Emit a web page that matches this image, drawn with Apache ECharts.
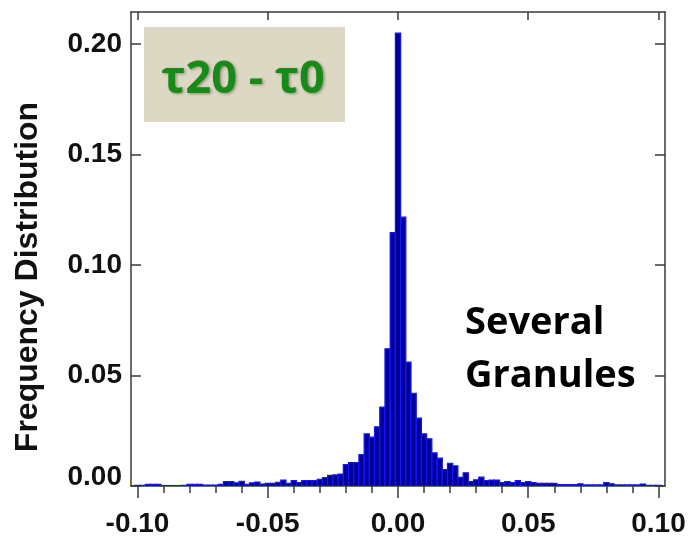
<!DOCTYPE html>
<html>
<head>
<meta charset="utf-8">
<script src="https://cdn.jsdelivr.net/npm/echarts@6/dist/echarts.min.js"></script>
<style>html,body{margin:0;padding:0;background:#fff;}#c{width:689px;height:541px;}</style>
</head>
<body>
<div id="c"></div>
<script>
// Histogram of tau20 - tau0: bins centred every BIN_WIDTH from BIN_START
const BIN_START = -0.1;
const BIN_WIDTH = 0.002;
const frequency = [
  0.0003, 0.0003, 0.0007, 0.0007, 0.0007, 0.0002, 0.0002, 0.0002, 0.0002, 0.0003,
  0.0007, 0.0007, 0.0007, 0.0004, 0.0004, 0.0004, 0.0007, 0.0020, 0.0020, 0.0014,
  0.0021, 0.0007, 0.0014, 0.0018, 0.0009, 0.0012, 0.0012, 0.0017, 0.0027, 0.0012,
  0.0024, 0.0015, 0.0024, 0.0024, 0.0024, 0.0030, 0.0038, 0.0048, 0.0050, 0.0054,
  0.0097, 0.0106, 0.0106, 0.0142, 0.0236, 0.0221, 0.0268, 0.0357, 0.0621, 0.1147,
  0.2050,
  0.1217, 0.0561, 0.0420, 0.0307, 0.0236, 0.0214, 0.0150, 0.0126, 0.0074, 0.0103,
  0.0091, 0.0039, 0.0060, 0.0020, 0.0028, 0.0040, 0.0024, 0.0027, 0.0027, 0.0015,
  0.0020, 0.0015, 0.0024, 0.0015, 0.0020, 0.0015, 0.0012, 0.0012, 0.0012, 0.0012,
  0.0006, 0.0006, 0.0006, 0.0006, 0.0010, 0.0005, 0.0005, 0.0005, 0.0005, 0.0015,
  0.0010, 0.0005, 0.0005, 0.0005, 0.0005, 0.0005, 0.0009, 0.0003, 0.0003, 0.0003
];
const xMajorTicks = [-0.10, -0.05, 0.00, 0.05, 0.10];
const xMinorTicks = [-0.09,-0.08,-0.07,-0.06,-0.04,-0.03,-0.02,-0.01,0.01,0.02,0.03,0.04,0.06,0.07,0.08,0.09];
const yTicks = [0.00, 0.05, 0.10, 0.15, 0.20];
const yAxisTitle = 'Frequency Distribution';
const boxLabel = 'τ20 - τ0';
const noteLines = ['Several', 'Granules'];

const data = frequency.map((f, i) => [BIN_START + i * BIN_WIDTH, f]);

const chart = echarts.init(document.getElementById('c'), null, {renderer: 'canvas'});
const frameColor = '#3a3a3a';
const labelFont = {fontFamily: 'Liberation Sans', fontWeight: 'bold', fontSize: 28, color: '#111'};

chart.setOption({
  animation: false,
  backgroundColor: '#fff',
  grid: {left: 131, right: 24, top: 12, bottom: 55, containLabel: false},
  xAxis: [
    {
      type: 'value', position: 'bottom', min: -0.1025, max: 0.1025,
      axisLine: {show: true, onZero: false, lineStyle: {color: frameColor, width: 1.5}},
      axisTick: {show: true, inside: false, length: 12, customValues: xMajorTicks, lineStyle: {color: frameColor, width: 1.5}},
      axisLabel: Object.assign({show: true, margin: 24, customValues: xMajorTicks,
        formatter: v => v.toFixed(2)}, labelFont),
      splitLine: {show: false}
    },
    {
      type: 'value', position: 'bottom', min: -0.1025, max: 0.1025, offset: 0,
      axisLine: {show: false, onZero: false},
      axisTick: {show: true, inside: false, length: 7, customValues: xMinorTicks, lineStyle: {color: frameColor, width: 1.5}},
      axisLabel: {show: false},
      splitLine: {show: false}
    },
    {
      type: 'value', position: 'top', min: -0.1025, max: 0.1025,
      axisLine: {show: true, onZero: false, lineStyle: {color: frameColor, width: 1.5}},
      axisTick: {show: true, inside: true, length: 8, customValues: xMajorTicks, lineStyle: {color: frameColor, width: 1.5}},
      axisLabel: {show: false},
      splitLine: {show: false}
    }
  ],
  yAxis: [
    {
      type: 'value', position: 'left', min: 0, max: 0.2146,
      axisLine: {show: true, onZero: false, lineStyle: {color: frameColor, width: 1.5}},
      axisTick: {show: true, inside: true, length: 10, customValues: yTicks, lineStyle: {color: frameColor, width: 1.5}},
      axisLabel: Object.assign({show: true, margin: 9, customValues: yTicks,
        formatter: v => (Math.abs(v) < 1e-9 ? '{z|' + v.toFixed(2) + '}' : v.toFixed(2)),
        rich: {z: {fontFamily: 'Liberation Sans', fontWeight: 'bold', fontSize: 28, color: '#111', padding: [0, 0, 18, 0]}}
      }, labelFont),
      splitLine: {show: false}
    },
    {
      type: 'value', position: 'right', min: 0, max: 0.2146,
      axisLine: {show: true, onZero: false, lineStyle: {color: frameColor, width: 1.5}},
      axisTick: {show: true, inside: true, length: 10, customValues: yTicks, lineStyle: {color: frameColor, width: 1.5}},
      axisLabel: {show: false},
      splitLine: {show: false}
    }
  ],
  series: [{
    type: 'custom',
    xAxisIndex: 0, yAxisIndex: 0,
    clip: true,
    data: data,
    renderItem: function (params, api) {
      const x = api.value(0), y = api.value(1);
      const p0 = api.coord([x - BIN_WIDTH / 2, y]);
      const p1 = api.coord([x + BIN_WIDTH / 2, 0]);
      return {
        type: 'rect',
        shape: {x: p0[0], y: p0[1], width: p1[0] - p0[0], height: p1[1] - p0[1]},
        style: {fill: '#000096', stroke: '#1414ff', lineWidth: 1.2}
      };
    }
  }],
  graphic: [
    {type: 'text', x: 28, y: 277, rotation: Math.PI / 2, z: 11, style: {
      text: yAxisTitle, fontFamily: 'Liberation Sans', fontWeight: 'bold', fontSize: 32, fill: '#111',
      align: 'center', verticalAlign: 'middle'}},
    {type: 'rect', left: 144, top: 27, shape: {width: 201, height: 95}, style: {fill: '#ddd8c3'}, z: 10},
    {type: 'text', x: 243, y: 80, z: 11, style: {
      text: boxLabel, fontFamily: 'Open Sans', fontWeight: 'bold', fontSize: 45, fill: '#178a17',
      align: 'center', verticalAlign: 'middle',
      textShadowColor: 'rgba(0,0,0,0.35)', textShadowBlur: 3, textShadowOffsetX: 1.5, textShadowOffsetY: 1.5}},
    {type: 'text', x: 465, y: 323, z: 11, style: {
      text: noteLines[0], fontFamily: 'Open Sans', fontWeight: 'bold', fontSize: 38, fill: '#000',
      align: 'left', verticalAlign: 'middle'}},
    {type: 'text', x: 465, y: 376, z: 11, style: {
      text: noteLines[1], fontFamily: 'Open Sans', fontWeight: 'bold', fontSize: 38, fill: '#000',
      align: 'left', verticalAlign: 'middle'}}
  ]
});
</script>
</body>
</html>
